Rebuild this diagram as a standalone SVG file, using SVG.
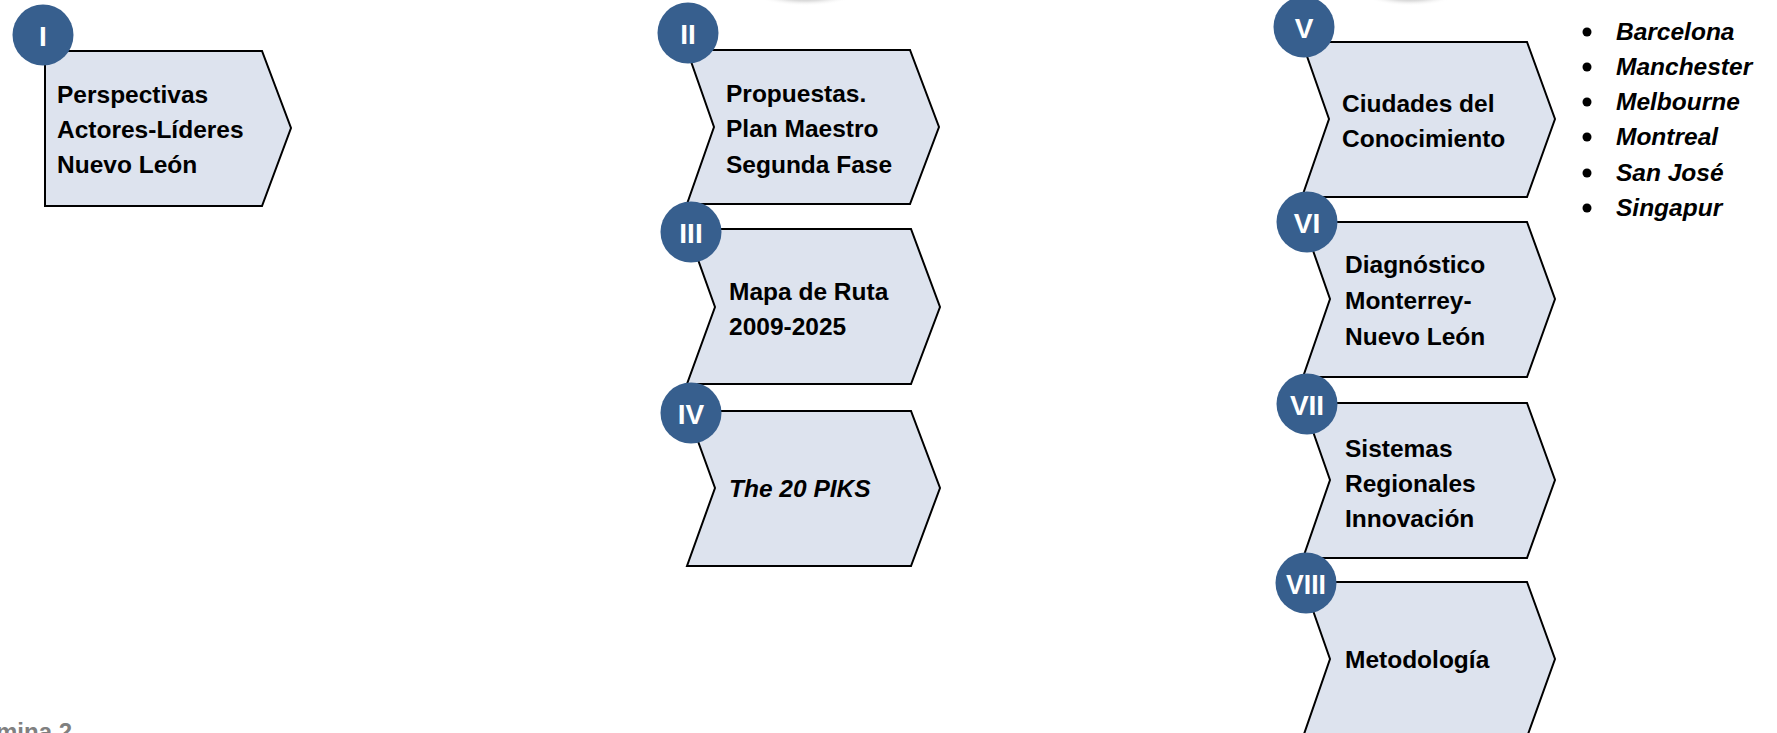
<svg xmlns="http://www.w3.org/2000/svg" width="1777" height="733" viewBox="0 0 1777 733">
<defs>
<radialGradient id="shadow" cx="0.5" cy="0.5" r="0.5">
<stop offset="0" stop-color="#808080" stop-opacity="0.85"/>
<stop offset="0.6" stop-color="#b0b0b0" stop-opacity="0.4"/>
<stop offset="1" stop-color="#ffffff" stop-opacity="0"/>
</radialGradient>
</defs>
<style>
.box{fill:#DDE3EE;stroke:#000;stroke-width:2;stroke-linejoin:miter}
.badge{fill:#375F8E}
.num{font-family:"Liberation Sans",Arial,sans-serif;font-weight:bold;font-size:28px;fill:#fff;text-anchor:middle}
.lbl{font-family:"Liberation Sans",Arial,sans-serif;font-weight:bold;font-size:24.5px;fill:#000}
.it{font-style:italic}
.city{font-family:"Liberation Sans",Arial,sans-serif;font-weight:bold;font-style:italic;font-size:24.5px;fill:#000}
.foot{font-family:"Liberation Sans",Arial,sans-serif;font-weight:bold;font-size:24px;fill:#808080}
</style>
<rect width="1777" height="733" fill="#fff"/>
<ellipse cx="805" cy="-6" rx="50" ry="12" fill="url(#shadow)"/>
<ellipse cx="1410" cy="-6" rx="46" ry="12" fill="url(#shadow)"/>
<g id="connectors"></g>
<g id="node-I">
<path class="box" d="M45,51 L262,51 L291,128 L262,206 L45,206 Z"/>
<circle class="badge" cx="43" cy="35" r="30.5"/>
<text class="num" x="43" y="46">I</text>
<text class="lbl" x="57" y="103">Perspectivas</text>
<text class="lbl" x="57" y="138">Actores-Líderes</text>
<text class="lbl" x="57" y="173">Nuevo León</text>
</g>
<g id="node-II">
<path class="box" d="M687,50 L910,50 L939,127 L910,204 L687,204 L714,127 Z"/>
<circle class="badge" cx="688" cy="33" r="30.5"/>
<text class="num" x="688" y="44">II</text>
<text class="lbl" x="726" y="102">Propuestas.</text>
<text class="lbl" x="726" y="137">Plan Maestro</text>
<text class="lbl" x="726" y="173">Segunda Fase</text>
</g>
<g id="node-III">
<path class="box" d="M687,229 L911,229 L940,307 L911,384 L687,384 L715,307 Z"/>
<circle class="badge" cx="691" cy="232" r="30.5"/>
<text class="num" x="691" y="243">III</text>
<text class="lbl" x="729" y="300">Mapa de Ruta</text>
<text class="lbl" x="729" y="335">2009-2025</text>
</g>
<g id="node-IV">
<path class="box" d="M687,411 L911,411 L940,488 L911,566 L687,566 L715,488 Z"/>
<circle class="badge" cx="691" cy="413" r="30.5"/>
<text class="num" x="691" y="424">IV</text>
<text class="lbl it" x="729" y="497">The 20 PIKS</text>
</g>
<g id="node-V">
<path class="box" d="M1302,42 L1527,42 L1555,119 L1527,197 L1302,197 L1329,119 Z"/>
<circle class="badge" cx="1304" cy="27" r="30.5"/>
<text class="num" x="1304" y="38">V</text>
<text class="lbl" x="1342" y="112">Ciudades del</text>
<text class="lbl" x="1342" y="147">Conocimiento</text>
</g>
<g id="node-VI">
<path class="box" d="M1303,222 L1527,222 L1555,299 L1527,377 L1303,377 L1330,299 Z"/>
<circle class="badge" cx="1307" cy="222" r="30.5"/>
<text class="num" x="1307" y="233">VI</text>
<text class="lbl" x="1345" y="273">Diagnóstico</text>
<text class="lbl" x="1345" y="309">Monterrey-</text>
<text class="lbl" x="1345" y="345">Nuevo León</text>
</g>
<g id="node-VII">
<path class="box" d="M1303,403 L1527,403 L1555,480 L1527,558 L1303,558 L1330,480 Z"/>
<circle class="badge" cx="1307" cy="404" r="30.5"/>
<text class="num" x="1307" y="415">VII</text>
<text class="lbl" x="1345" y="457">Sistemas</text>
<text class="lbl" x="1345" y="492">Regionales</text>
<text class="lbl" x="1345" y="527">Innovación</text>
</g>
<g id="node-VIII">
<path class="box" d="M1303,582 L1527,582 L1555,659 L1527,737 L1303,737 L1330,659 Z"/>
<circle class="badge" cx="1306" cy="583" r="30.5"/>
<text class="num" x="1306" y="594" textLength="40" lengthAdjust="spacingAndGlyphs">VIII</text>
<text class="lbl" x="1345" y="668">Metodología</text>
</g>
<g id="cities">
<circle cx="1587" cy="32" r="4.5"/>
<circle cx="1587" cy="67" r="4.5"/>
<circle cx="1587" cy="102" r="4.5"/>
<circle cx="1587" cy="137" r="4.5"/>
<circle cx="1587" cy="173" r="4.5"/>
<circle cx="1587" cy="208" r="4.5"/>
<text class="city" x="1616" y="40">Barcelona</text>
<text class="city" x="1616" y="75">Manchester</text>
<text class="city" x="1616" y="110">Melbourne</text>
<text class="city" x="1616" y="145">Montreal</text>
<text class="city" x="1616" y="181">San José</text>
<text class="city" x="1616" y="216">Singapur</text>
</g>
<text class="foot" x="-4" y="740">mina 2</text>
</svg>
